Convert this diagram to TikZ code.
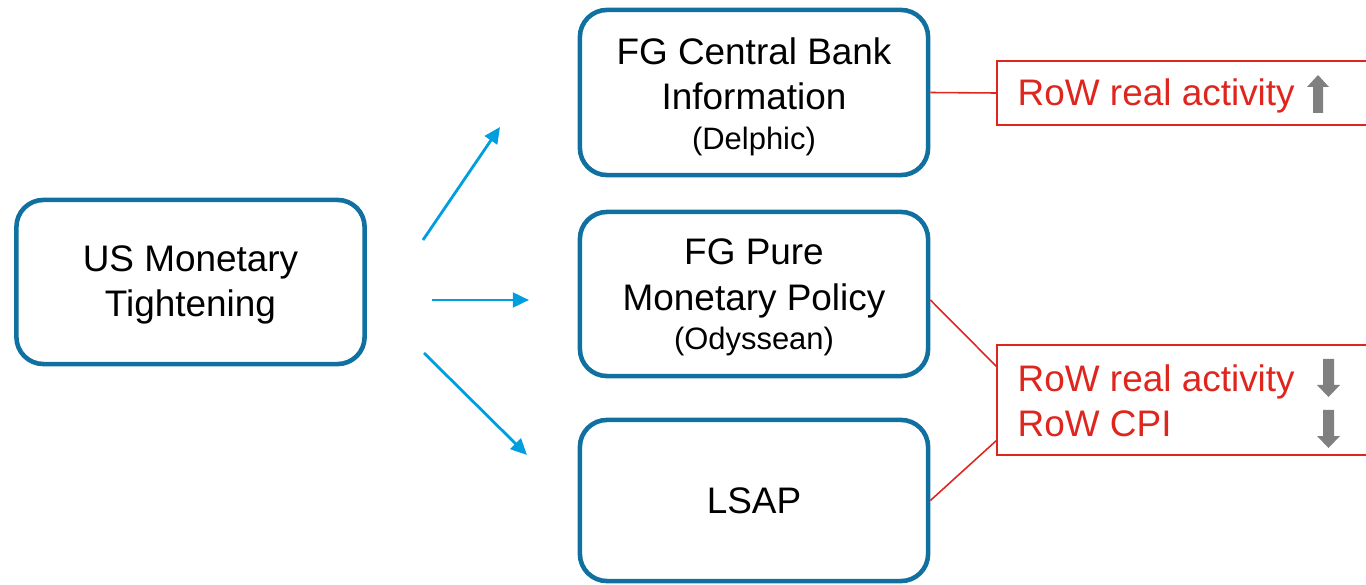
\documentclass[tikz,border=0pt]{standalone}
\usepackage{fontspec}
\setmainfont{Liberation Sans}
\usetikzlibrary{arrows.meta}
\definecolor{boxblue}{RGB}{16,112,160}
\definecolor{arrowblue}{RGB}{0,158,222}
\definecolor{rowred}{RGB}{222,38,30}
\definecolor{trendgray}{RGB}{128,128,128}
\newcommand{\subnote}[1]{{\fontsize{8.8}{10.8}\selectfont #1}}
\begin{document}
\begin{tikzpicture}[x=0.01cm,y=-0.01cm,
  channel/.style={draw=boxblue, line width=1.3pt, rounded corners=0.27cm,
    minimum width=3.48cm, inner sep=0pt},
  channeltext/.style={align=center, text=black,
    font=\fontsize{10.5}{12.8}\selectfont, inner sep=0pt},
  flow/.style={draw=arrowblue, line width=0.8pt,
    -{Triangle[length=4.6pt,width=4.2pt]}},
  effectbox/.style={draw=rowred, line width=0.55pt, inner sep=0pt},
  effect/.style={text=rowred, font=\fontsize{10.5}{12.8}\selectfont,
    inner sep=0pt, anchor=base west},
  link/.style={draw=rowred, line width=0.45pt},
  trend/.style={fill=trendgray, draw=none}]
\useasboundingbox (0,0) rectangle (1366,585);
\clip (0,0) rectangle (1366,585);

% origin of the shock
\node[channel, minimum height=1.64cm] (us) at (190.5,282) {};
\node[channeltext, yshift=-0.8pt] (ustext) at (us.center) {US Monetary\\Tightening};

% three transmission channels
\node[channel, minimum height=1.65cm] (cbi) at (754,92.5) {};
\node[channeltext, yshift=-1.3pt] (cbitext) at (cbi.center)
  {FG Central Bank\\Information\\[-1.4pt]\subnote{(Delphic)}};
\node[channel, minimum height=1.64cm] (pmp) at (754,294) {};
\node[channeltext, yshift=-1.0pt] (pmptext) at (pmp.center)
  {FG Pure\\Monetary Policy\\[-1.6pt]\subnote{(Odyssean)}};
\node[channel, minimum height=1.61cm] (lsap) at (754,500.5) {};
\node[channeltext] (lsaptext) at (lsap.center) {LSAP};

% arrows from the shock towards the channels
\coordinate (f1s) at (423,240);  \coordinate (f1e) at (500,127);
\coordinate (f2s) at (432,300);  \coordinate (f2e) at (529,300);
\coordinate (f3s) at (424,353);  \coordinate (f3e) at (527,455);
\draw[flow] (f1s) -- (f1e);
\draw[flow] (f2s) -- (f2e);
\draw[flow] (f3s) -- (f3e);

% effects on the rest of the world
\node[effectbox, minimum width=3.83cm, minimum height=0.64cm] (up) at (1188.5,93) {};
\node[effectbox, minimum width=3.83cm, minimum height=1.10cm] (down) at (1188.5,400) {};
\node[effect] (upact) at (1017,106) {RoW real activity};
\node[effect] (dnact) at (1017,391) {RoW real activity};
\node[effect] (dncpi) at (1017,436) {RoW CPI};

% links from channels to effects
\coordinate (downa) at (997,367);
\coordinate (downb) at (997,440);
\draw[link] (cbi.east) -- (up.west);
\draw[link] (pmp.east |- 0,300) -- (downa);
\draw[link] (lsap.east) -- (downb);

% direction of the effects
\fill[trend] (1313,113) -- (1313,87) -- (1307,87) -- (1318,75) -- (1329,87)
  -- (1323,87) -- (1323,113) -- cycle;
\fill[trend] (1323,359) -- (1323,385) -- (1317,385) -- (1328.5,397) -- (1340,385)
  -- (1334,385) -- (1334,359) -- cycle;
\fill[trend] (1323,410) -- (1323,436) -- (1317,436) -- (1328.5,448) -- (1340,436)
  -- (1334,436) -- (1334,410) -- cycle;
\end{tikzpicture}
\end{document}
